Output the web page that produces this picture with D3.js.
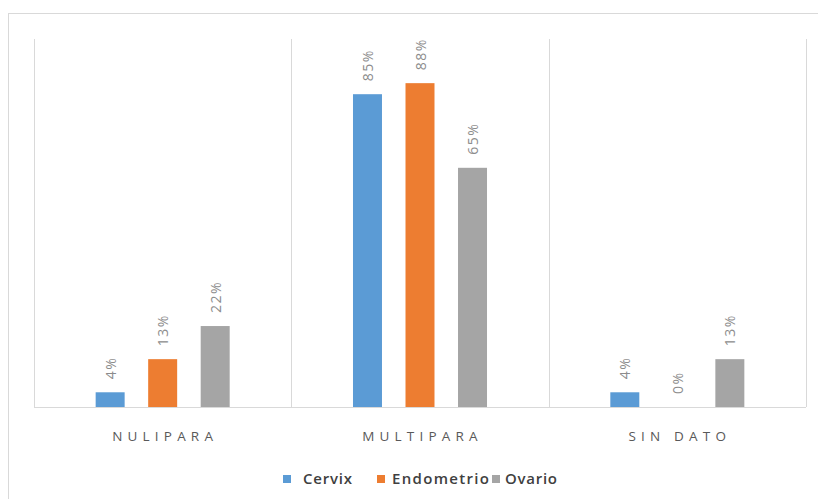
<!DOCTYPE html>
<html><head><meta charset="utf-8">
<script src="https://cdn.jsdelivr.net/npm/d3@7"></script>
<style>body{margin:0;background:#fff;}svg{display:block;}</style>
</head><body>
<script>
const categories = ["NULIPARA", "MULTIPARA", "SIN DATO"];
const seriesNames = ["Cervix", "Endometrio", "Ovario"];
const cervix = [4, 85, 4];
const endometrio = [13, 88, 0];
const ovario = [22, 65, 13];
const colors = ["#5B9BD5", "#ED7D31", "#A5A5A5"];
const values = [cervix, endometrio, ovario];

(function () {
const W = 818, H = 499;
const svg = d3.select("body").append("svg").attr("width", W).attr("height", H);

// outer frame
svg.append("line").attr("x1", 8).attr("x2", W).attr("y1", 13.5).attr("y2", 13.5).attr("stroke", "#d9d9d9");
svg.append("line").attr("x1", 8.5).attr("x2", 8.5).attr("y1", 13).attr("y2", H).attr("stroke", "#d9d9d9");

const pLeft = 34, pRight = 806, pTop = 39, pBottom = 407;
const x = d3.scaleBand().domain(categories).range([pLeft, pRight]).paddingInner(0).paddingOuter(0);
const xs = d3.scaleBand().domain(seriesNames).range([0, x.bandwidth()]).paddingInner(0.448).paddingOuter(1.174);
const y = d3.scaleLinear().domain([0, 100]).range([pBottom, pTop]);

// vertical category separators
const seps = [pLeft, ...categories.map(c => x(c) + x.bandwidth())];
svg.selectAll(".sep").data(seps).enter().append("line")
  .attr("x1", d => Math.round(d) + 0.5).attr("x2", d => Math.round(d) + 0.5)
  .attr("y1", pTop).attr("y2", pBottom)
  .attr("stroke", "#d9d9d9");
svg.append("line").attr("x1", pLeft).attr("x2", pRight).attr("y1", pBottom + 0.5).attr("y2", pBottom + 0.5).attr("stroke", "#d9d9d9");

const g = svg.append("g");
values.forEach((vals, si) => {
  const s = seriesNames[si];
  g.selectAll(".b" + si).data(categories).enter().append("rect")
    .attr("x", (c) => x(c) + xs(s))
    .attr("width", xs.bandwidth())
    .attr("y", (c, i) => y(vals[i]))
    .attr("height", (c, i) => pBottom - y(vals[i]))
    .attr("fill", colors[si]);
  g.selectAll(".l" + si).data(categories).enter().append("text")
    .attr("transform", (c, i) => `translate(${x(c) + xs(s) + xs.bandwidth() / 2 + 5.5},${y(vals[i]) - 13}) rotate(-90)`)
    .attr("text-anchor", "start")
    .attr("font-family", "Open Sans, sans-serif")
    .attr("font-size", 14)
    .attr("letter-spacing", "1.5px")
    .attr("fill", "#8c8c8c")
    .text((c, i) => vals[i] + "%");
});

// category labels
svg.selectAll(".cat").data(categories).enter().append("text")
  .attr("x", c => x(c) + x.bandwidth() / 2 + 2.5)
  .attr("y", 441)
  .attr("text-anchor", "middle")
  .attr("font-family", "Open Sans, sans-serif")
  .attr("font-size", 13.5)
  .attr("letter-spacing", "5.2px")
  .attr("fill", "#595959")
  .text(c => c);

// legend
const legX = [283, 377, 492];
const legTX = [303, 392, 505];
const legW = [49, 97, 52];
seriesNames.forEach((s, i) => {
  svg.append("rect").attr("x", legX[i]).attr("y", 475).attr("width", 8).attr("height", 8).attr("fill", colors[i]);
  svg.append("text").attr("x", legTX[i]).attr("y", 484)
    .attr("font-family", "Open Sans, sans-serif").attr("font-size", 15).attr("font-weight", 600)
    .attr("textLength", legW[i]).attr("lengthAdjust", "spacing")
    .attr("fill", "#404040").text(s);
});
})();
</script>
</body></html>
